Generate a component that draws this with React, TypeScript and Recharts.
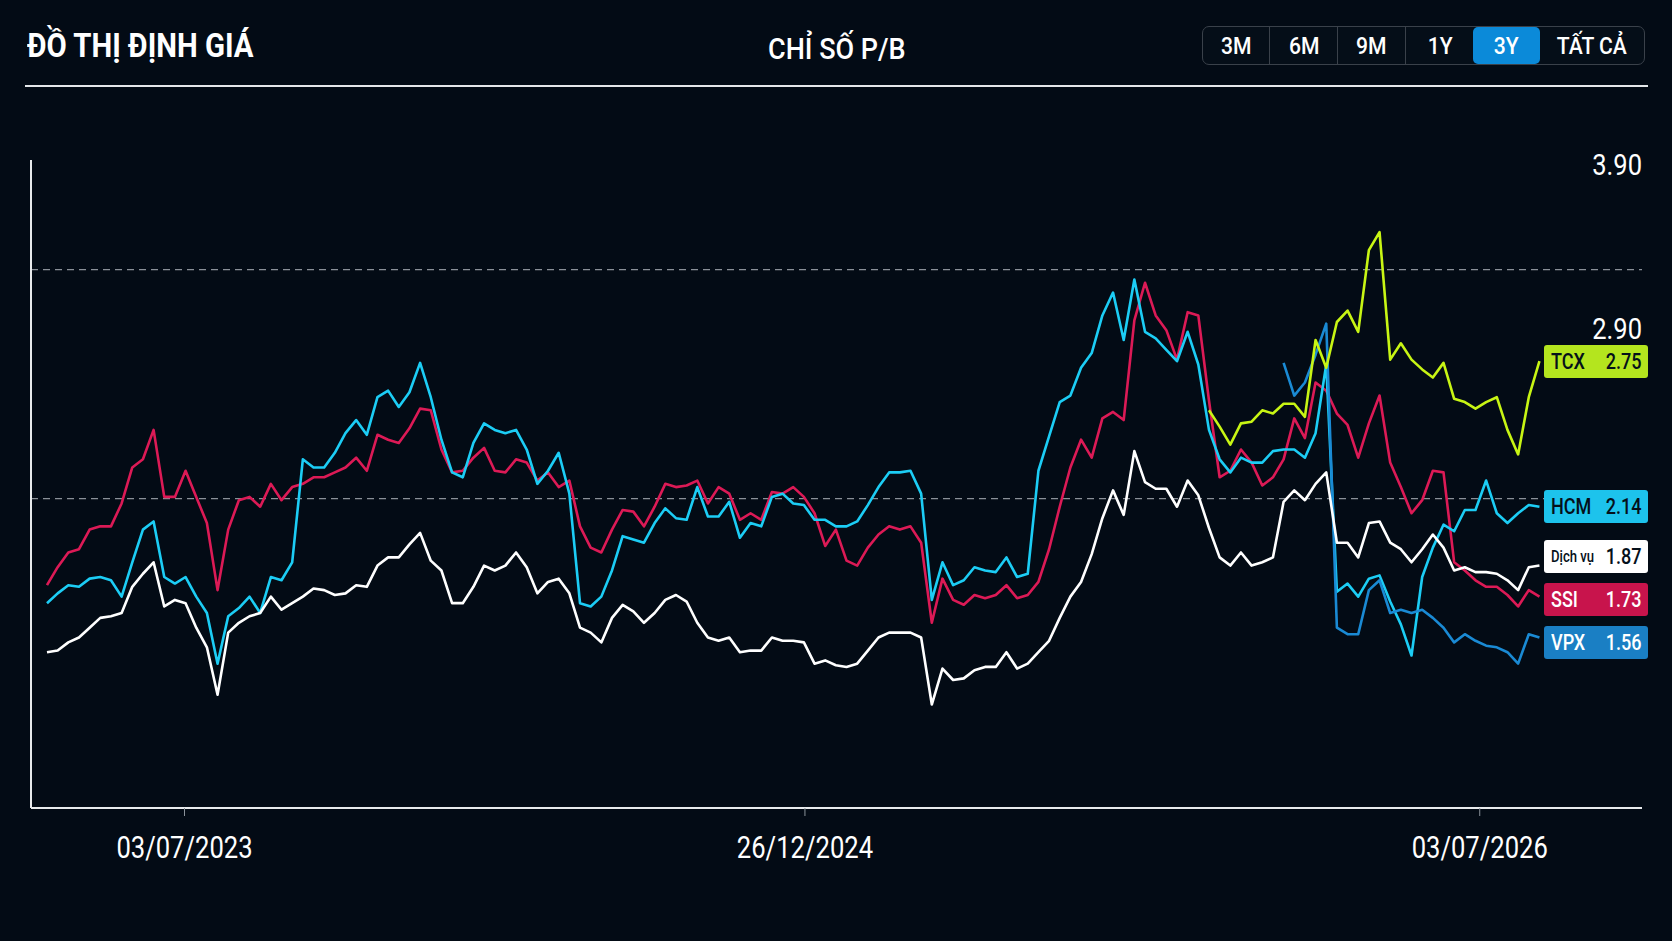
import React from 'react';
import { LineChart, Line, XAxis, YAxis, ReferenceLine } from 'recharts';

// P/B series, one point per sampling step (index 0..140)
const ssi = [
  1.33, 1.44, 1.53, 1.55, 1.67, 1.69, 1.69, 1.83, 2.05, 2.10,
  2.28, 1.87, 1.87, 2.03, 1.87, 1.71, 1.30, 1.67, 1.85, 1.87,
  1.81, 1.95, 1.85, 1.93, 1.95, 1.99, 1.99, 2.02, 2.05, 2.11,
  2.03, 2.25, 2.22, 2.20, 2.29, 2.41, 2.40, 2.16, 2.02, 2.03,
  2.11, 2.17, 2.03, 2.02, 2.10, 2.08, 1.97, 2.02, 1.93, 1.97,
  1.69, 1.56, 1.53, 1.67, 1.79, 1.78, 1.69, 1.81, 1.95, 1.93,
  1.94, 1.97, 1.83, 1.93, 1.89, 1.73, 1.77, 1.73, 1.90, 1.89,
  1.93, 1.87, 1.77, 1.57, 1.67, 1.48, 1.45, 1.56, 1.64, 1.69,
  1.67, 1.69, 1.59, 1.10, 1.37, 1.24, 1.21, 1.27, 1.25, 1.27,
  1.33, 1.25, 1.27, 1.35, 1.55, 1.81, 2.05, 2.22, 2.11, 2.35,
  2.39, 2.34, 2.95, 3.18, 2.98, 2.89, 2.71, 3.00, 2.98, 2.46,
  1.99, 2.03, 2.16, 2.08, 1.94, 1.99, 2.10, 2.35, 2.23, 2.57,
  2.52, 2.38, 2.31, 2.11, 2.32, 2.49, 2.08, 1.93, 1.77, 1.85,
  2.03, 2.02, 1.47, 1.42, 1.36, 1.32, 1.32, 1.27, 1.20, 1.30, 1.26,
];

const hcm = [
  1.22, 1.28, 1.33, 1.32, 1.37, 1.38, 1.36, 1.26, 1.47, 1.67,
  1.72, 1.38, 1.34, 1.38, 1.26, 1.16, 0.85, 1.14, 1.19, 1.26,
  1.16, 1.38, 1.36, 1.47, 2.10, 2.05, 2.05, 2.14, 2.26, 2.34,
  2.25, 2.48, 2.52, 2.42, 2.51, 2.69, 2.48, 2.22, 2.02, 1.99,
  2.20, 2.32, 2.28, 2.26, 2.28, 2.16, 1.95, 2.03, 2.14, 1.89,
  1.22, 1.20, 1.26, 1.42, 1.63, 1.61, 1.59, 1.71, 1.80, 1.74,
  1.73, 1.93, 1.75, 1.75, 1.84, 1.62, 1.71, 1.69, 1.87, 1.89,
  1.83, 1.82, 1.73, 1.73, 1.69, 1.69, 1.72, 1.82, 1.93, 2.02,
  2.02, 2.03, 1.89, 1.24, 1.47, 1.33, 1.36, 1.44, 1.42, 1.41,
  1.50, 1.38, 1.40, 2.03, 2.24, 2.45, 2.49, 2.66, 2.75, 2.98,
  3.12, 2.83, 3.20, 2.88, 2.84, 2.77, 2.70, 2.88, 2.68, 2.28,
  2.10, 2.02, 2.11, 2.08, 2.08, 2.15, 2.16, 2.16, 2.11, 2.26,
  2.68, 1.29, 1.34, 1.26, 1.37, 1.39, 1.23, 1.09, 0.90, 1.38,
  1.56, 1.70, 1.66, 1.79, 1.79, 1.97, 1.77, 1.71, 1.77, 1.82, 1.81,
];

const dichVu = [
  0.92, 0.93, 0.98, 1.01, 1.07, 1.13, 1.14, 1.16, 1.32, 1.40,
  1.47, 1.20, 1.24, 1.22, 1.07, 0.95, 0.66, 1.04, 1.10, 1.14,
  1.16, 1.26, 1.18, 1.22, 1.26, 1.31, 1.30, 1.27, 1.28, 1.33,
  1.32, 1.45, 1.50, 1.50, 1.58, 1.65, 1.48, 1.42, 1.22, 1.22,
  1.32, 1.45, 1.42, 1.45, 1.53, 1.44, 1.28, 1.35, 1.37, 1.28,
  1.07, 1.04, 0.98, 1.13, 1.21, 1.17, 1.10, 1.16, 1.24, 1.27,
  1.23, 1.10, 1.01, 0.99, 1.01, 0.92, 0.93, 0.93, 1.01, 0.99,
  0.99, 0.98, 0.85, 0.87, 0.84, 0.83, 0.85, 0.93, 1.01, 1.04,
  1.04, 1.04, 1.01, 0.60, 0.82, 0.75, 0.76, 0.81, 0.83, 0.83,
  0.92, 0.82, 0.85, 0.92, 0.99, 1.13, 1.26, 1.35, 1.52, 1.74,
  1.91, 1.76, 2.15, 1.96, 1.92, 1.92, 1.81, 1.97, 1.88, 1.68,
  1.50, 1.45, 1.53, 1.45, 1.47, 1.50, 1.84, 1.91, 1.85, 1.95,
  2.02, 1.59, 1.59, 1.50, 1.71, 1.72, 1.59, 1.55, 1.47, 1.55,
  1.64, 1.56, 1.42, 1.44, 1.41, 1.41, 1.40, 1.36, 1.30, 1.44, 1.45,
];

// shorter histories
const TCX_START = 109;
const tcx = [
  2.40, 2.30, 2.19, 2.32, 2.33, 2.40, 2.38, 2.44, 2.44, 2.36,
  2.83, 2.66, 2.94, 3.01, 2.88, 3.38, 3.49, 2.71, 2.81, 2.71,
  2.65, 2.60, 2.69, 2.47, 2.45, 2.41, 2.45, 2.48, 2.28, 2.13,
  2.48, 2.70,
];

const VPX_START = 116;
const vpx = [
  2.69, 2.49, 2.57, 2.74, 2.93, 1.07, 1.03, 1.03, 1.30, 1.36,
  1.16, 1.18, 1.16, 1.18, 1.13, 1.07, 0.98, 1.03, 0.99, 0.96,
  0.95, 0.92, 0.85, 1.03, 1.01,
];

const xTicks = [12.9, 71.1, 134.4];
const xTickLabels = ['03/07/2023', '26/12/2024', '03/07/2026'];
const yTicks = [2.9, 3.9];
const guideLevels = [3.26, 1.86];
const ranges = ['3M', '6M', '9M', '1Y', '3Y', 'TẤT CẢ'];
const activeRange = '3Y';

const seriesList = [
  { key: 'ssi', name: 'SSI', value: '1.73', line: '#dc1a56', box: '#c8144c', text: '#ffffff' },
  { key: 'hcm', name: 'HCM', value: '2.14', line: '#1ccdf5', box: '#1dc3ec', text: '#05101a' },
  { key: 'vpx', name: 'VPX', value: '1.56', line: '#1a8ad4', box: '#1a7fc4', text: '#ffffff' },
  { key: 'tcx', name: 'TCX', value: '2.75', line: '#c8f514', box: '#b4e51e', text: '#05101a' },
  { key: 'dv', name: 'Dịch vụ', value: '1.87', line: '#ffffff', box: '#ffffff', text: '#05101a' },
];

const data = ssi.map((v, i) => ({
  i,
  ssi: v,
  hcm: hcm[i],
  dv: dichVu[i],
  tcx: i >= TCX_START ? tcx[i - TCX_START] : null,
  vpx: i >= VPX_START ? vpx[i - VPX_START] : null,
}));

const W = 1672;
const H = 941;
const PLOT = { left: 31, top: 160, right: 1642, bottom: 808 };
const Y_DOMAIN: [number, number] = [-0.033, 3.931];
const X_DOMAIN: [number, number] = [-1.5, 149.62];
const XAXIS_H = 60;
const YAXIS_W = 1;
const BG = '#030b15';
const FONT = 'Roboto, "Noto Sans", sans-serif';

const toPixelY = (v: number) =>
  PLOT.top + ((Y_DOMAIN[1] - v) / (Y_DOMAIN[1] - Y_DOMAIN[0])) * (PLOT.bottom - PLOT.top);

const XTick = (props: any) => {
  const { x, y, payload } = props;
  const idx = xTicks.indexOf(payload.value);
  return (
    <text
      transform={`translate(${x},${y + 29}) scale(0.8,1)`}
      textAnchor="middle"
      dominantBaseline="central"
      fill="#ffffff"
      fontSize={32}
      fontFamily={FONT}
    >
      {xTickLabels[idx]}
    </text>
  );
};

// value ticks sit at the right edge of the plot, inside it
const YTick = (props: any) => {
  const { y, payload } = props;
  return (
    <text
      transform={`translate(${PLOT.right},${y}) scale(0.85,1)`}
      textAnchor="end"
      dominantBaseline="central"
      fill="#ffffff"
      fontSize={30}
      fontFamily={FONT}
    >
      {Number(payload.value).toFixed(2)}
    </text>
  );
};

const lastOf = (key: string) => {
  for (let i = data.length - 1; i >= 0; i--) {
    const v = (data[i] as any)[key];
    if (v != null) return v as number;
  }
  return 0;
};

// end-of-line badges, spread apart so they don't overlap
const badgeOrder = ['tcx', 'hcm', 'dv', 'ssi', 'vpx'];
const BADGE_GAP = 43;
const badges = badgeOrder
  .map((k) => {
    const s = seriesList.find((x) => x.key === k)!;
    return { ...s, y: toPixelY(lastOf(k)) };
  })
  .sort((a, b) => a.y - b.y);
for (let pass = 0; pass < 80; pass++) {
  for (let j = 1; j < badges.length; j++) {
    const gap = badges[j].y - badges[j - 1].y;
    if (gap < BADGE_GAP) {
      const d = (BADGE_GAP - gap) / 2;
      badges[j - 1].y -= d;
      badges[j].y += d;
    }
  }
}

const btnWidths = [69, 68, 68, 67, 67, 104];

export default function App() {
  return (
    <div
      style={{
        position: 'absolute',
        left: 0,
        top: 0,
        width: W,
        height: H,
        background: BG,
        overflow: 'hidden',
        fontFamily: FONT,
        color: '#fff',
      }}
    >
      <div
        style={{
          position: 'absolute',
          left: 27,
          top: 26,
          height: 40,
          lineHeight: '40px',
          fontSize: 33,
          fontWeight: 700,
          whiteSpace: 'nowrap',
          transform: 'scaleX(0.89)',
          transformOrigin: 'left center',
        }}
      >
        ĐỒ THỊ ĐỊNH GIÁ
      </div>
      <div
        style={{
          position: 'absolute',
          left: 768,
          top: 29,
          height: 40,
          lineHeight: '40px',
          fontSize: 30,
          fontWeight: 500,
          whiteSpace: 'nowrap',
          transform: 'scaleX(0.9)',
          transformOrigin: 'left center',
        }}
      >
        CHỈ SỐ P/B
      </div>

      <div
        style={{
          position: 'absolute',
          left: 1202,
          top: 26,
          width: 443,
          height: 39,
          boxSizing: 'border-box',
          border: '1.5px solid #3a414a',
          borderRadius: 7,
          display: 'flex',
          overflow: 'hidden',
          background: '#050e18',
        }}
      >
        {ranges.map((r, k) => {
          const active = r === activeRange;
          return (
            <div
              key={r}
              style={{
                width: btnWidths[k] - (k === 0 ? 1.5 : 0),
                height: '100%',
                display: 'flex',
                alignItems: 'center',
                justifyContent: 'center',
                background: active ? '#0b8ad9' : 'transparent',
                borderRadius: active ? 5 : 0,
                borderRight: k < 3 ? '1.5px solid #3a414a' : 'none',
                boxSizing: 'border-box',
                fontSize: 24,
                fontWeight: 500,
              }}
            >
              <span style={{ display: 'inline-block', transform: 'scaleX(0.88)' }}>{r}</span>
            </div>
          );
        })}
      </div>

      <div style={{ position: 'absolute', left: 25, top: 85, width: 1623, height: 2, background: '#e4e7ea' }} />

      <div style={{ position: 'absolute', left: 0, top: 0 }}>
        <LineChart
          width={W}
          height={H}
          data={data}
          margin={{
            top: PLOT.top,
            right: W - PLOT.right,
            bottom: H - PLOT.bottom - XAXIS_H,
            left: PLOT.left - YAXIS_W,
          }}
        >
          <XAxis
            dataKey="i"
            type="number"
            domain={X_DOMAIN}
            ticks={xTicks}
            interval={0}
            height={XAXIS_H}
            axisLine={{ stroke: '#e8eaec', strokeWidth: 2 }}
            tickLine={{ stroke: '#8a929a', strokeWidth: 1 }}
            tickSize={8}
            tickMargin={2}
            tick={<XTick />}
          />
          <YAxis
            domain={Y_DOMAIN}
            width={YAXIS_W}
            ticks={yTicks}
            interval={0}
            tickSize={0}
            tickMargin={0}
            tickLine={false}
            axisLine={{ stroke: '#e8eaec', strokeWidth: 2 }}
            tick={<YTick />}
          />
          {guideLevels.map((g) => (
            <ReferenceLine key={g} y={g} stroke="#8a9098" strokeWidth={1.2} strokeDasharray="7 5" />
          ))}
          {seriesList.map((s) => (
            <Line
              key={s.key}
              type="linear"
              dataKey={s.key}
              stroke={s.line}
              strokeWidth={2.6}
              strokeLinejoin="round"
              dot={false}
              activeDot={false}
              connectNulls={false}
              isAnimationActive={false}
            />
          ))}
        </LineChart>
      </div>

      {badges.map((b) => (
        <div
          key={b.key}
          style={{
            position: 'absolute',
            left: 1544,
            top: b.y - 16.5,
            width: 104,
            height: 33,
            background: b.box,
            borderRadius: 3,
            color: b.text,
            boxSizing: 'border-box',
            fontWeight: 500,
          }}
        >
          <span
            style={{
              position: 'absolute',
              left: 7,
              top: 0,
              lineHeight: '33px',
              transform: 'scaleX(0.82)',
              transformOrigin: 'left center',
              fontSize: b.key === 'dv' ? 16 : 22,
              whiteSpace: 'nowrap',
            }}
          >
            {b.name}
          </span>
          <span
            style={{
              position: 'absolute',
              right: 6,
              top: 0,
              lineHeight: '33px',
              fontSize: 22,
              transform: 'scaleX(0.82)',
              transformOrigin: 'right center',
            }}
          >
            {b.value}
          </span>
        </div>
      ))}
    </div>
  );
}
